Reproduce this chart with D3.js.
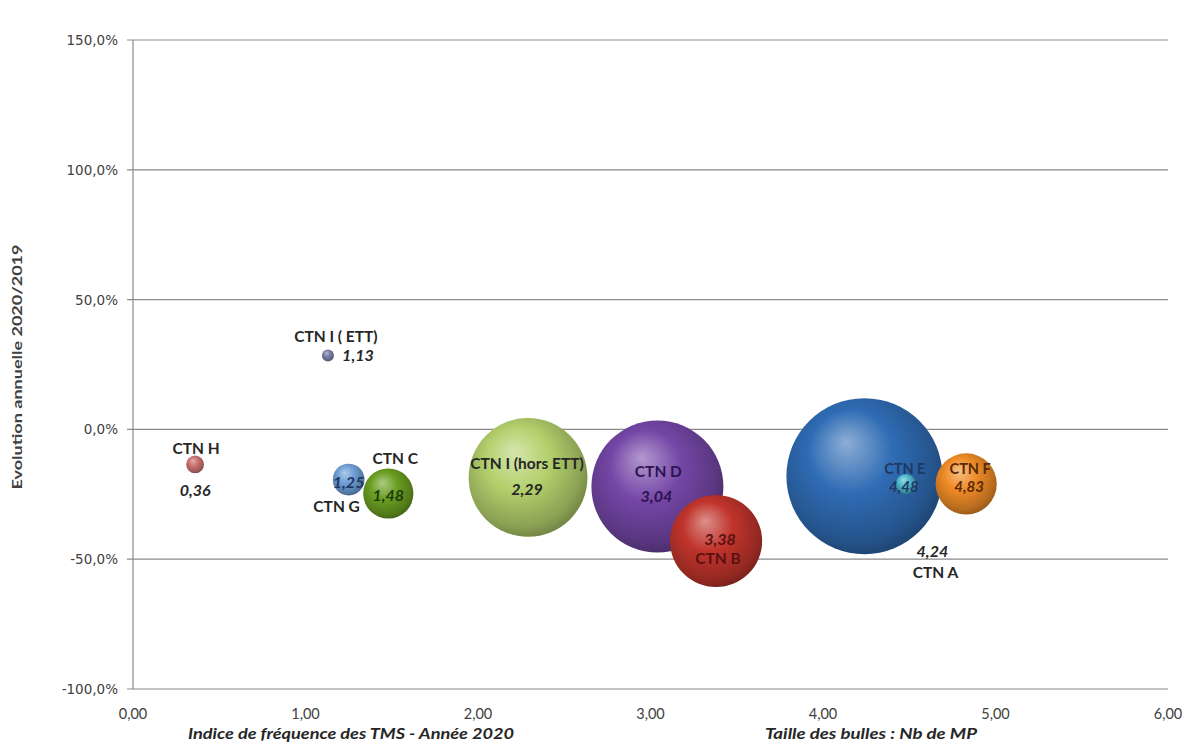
<!DOCTYPE html>
<html><head><meta charset="utf-8">
<script src="https://cdn.jsdelivr.net/npm/d3@7"></script>
<style>body{margin:0;background:#fff}svg{display:block}</style>
</head><body>
<svg id="c" width="1195" height="745"></svg>
<script>
const names = ["CTN H","CTN I ( ETT)","CTN G","CTN C","CTN I (hors ETT)","CTN D","CTN B","CTN A","CTN E","CTN F"];
const indice = [0.36,1.13,1.25,1.48,2.29,3.04,3.38,4.24,4.48,4.83];
const evolution = [-0.135,0.285,-0.193,-0.247,-0.185,-0.22,-0.43,-0.18,-0.21,-0.21];
const nbMP = [22,10,70,175,980,1210,590,1690,28,260];
const colors = ["#c8706f","#7a7ea6","#6e9fd6","#6a9e22","#b3d06c","#7446a6","#c0342c","#2f6cb4","#4fb8cc","#ee8a26"];
const labelColors = ["#262626","#262626","#1f3864","#1e3d0a","#262626","#2b1450","#5a1010","#262626","#1f3864","#5a2a05"];
const xTicks = [0,1,2,3,4,5,6];
const yTicks = [-1,-0.5,0,0.5,1,1.5];

const svg = d3.select("#c");
const m = {l:133, r:1168, t:40, b:689};
const x = d3.scaleLinear().domain([0,6]).range([m.l,m.r]);
const y = d3.scaleLinear().domain([-1,1.5]).range([m.b,m.t]);
const rs = d3.scaleSqrt().domain([0,1690]).range([0,78]);
const fmtY = v => d3.format(".1f")(v*100).replace(".",",").replace("\u2212","-")+"%";
const fmtX = v => d3.format(".2f")(v).replace(".",",");

// grid
svg.append("g").selectAll("line").data(yTicks).join("line")
  .attr("x1",m.l-6).attr("x2",m.r).attr("y1",d=>y(d)).attr("y2",d=>y(d))
  .attr("stroke","#8a8a8a").attr("stroke-width",1.2);
svg.append("line").attr("x1",m.l).attr("x2",m.l).attr("y1",m.t).attr("y2",m.b)
  .attr("stroke","#8a8a8a").attr("stroke-width",1.2);

// y axis labels
svg.append("g").selectAll("text").data(yTicks).join("text")
  .attr("x",118).attr("y",d=>y(d)+5).attr("text-anchor","end")
  .attr("font-family","DejaVu Sans").attr("font-size",13.5).attr("fill","#404040")
  .text(fmtY);
// x axis labels
svg.append("g").selectAll("text").data(xTicks).join("text")
  .attr("x",d=>x(d)).attr("y",719).attr("text-anchor","middle")
  .attr("font-family","Lato").attr("font-size",14.5).attr("fill","#404040")
  .text(fmtX);

// titles
svg.append("text").attr("transform","translate(22,367) rotate(-90)").attr("text-anchor","middle")
  .attr("font-family","Lato").attr("font-weight","bold").attr("font-size",14).attr("fill","#404040")
  .attr("textLength",245).attr("lengthAdjust","spacingAndGlyphs")
  .text("Evolution annuelle 2020/2019");
svg.append("text").attr("x",351).attr("y",739).attr("text-anchor","middle")
  .attr("font-family","Lato").attr("font-weight","bold").attr("font-style","italic").attr("font-size",16).attr("fill","#262626")
  .attr("textLength",326).attr("lengthAdjust","spacingAndGlyphs")
  .text("Indice de fréquence des TMS - Année 2020");
svg.append("text").attr("x",871).attr("y",739).attr("text-anchor","middle")
  .attr("font-family","Lato").attr("font-weight","bold").attr("font-style","italic").attr("font-size",16).attr("fill","#262626")
  .attr("textLength",212).attr("lengthAdjust","spacingAndGlyphs")
  .text("Taille des bulles : Nb de MP");

// gradients
const defs = svg.append("defs");
colors.forEach((c,i)=>{
  const g = defs.append("radialGradient").attr("id","g"+i)
    .attr("cx","45%").attr("cy","42%").attr("r","60%").attr("fx","38%").attr("fy","28%");
  const base = d3.color(c);
  g.append("stop").attr("offset","0%").attr("stop-color",d3.interpolateRgb(c,"#fff")(0.45));
  g.append("stop").attr("offset","45%").attr("stop-color",c);
  g.append("stop").attr("offset","85%").attr("stop-color",base.darker(0.7));
  g.append("stop").attr("offset","100%").attr("stop-color",base.darker(1.3));
});

const data = names.map((n,i)=>({i,n,x:indice[i],y:evolution[i],s:nbMP[i]}));
const order = data.slice().sort((a,b)=>b.s-a.s);
svg.append("g").selectAll("circle").data(order).join("circle")
  .attr("cx",d=>x(d.x)).attr("cy",d=>y(d.y)).attr("r",d=>rs(d.s))
  .attr("fill",d=>"url(#g"+d.i+")");

// label offsets: [nameDx,nameDy,valDx,valDy,fontSize]
const lab = [
  [1,-10, 0,32,15.5],
  [8,-13, 30,6,15.5],
  [-12,32, 0,8,15.5],
  [7,-30, 0,7,15.5],
  [-1,-8, -1,18,15.5],
  [1,-10, -1,15,15.5],
  [2,23, 4,4,15.5],
  [71,102, 68,81,15.5],
  [-1,-10, -2,8,14.5],
  [4,-10, 3,8,14.5]
];
const nameColor = i => (i===5||i===6||i===8||i===9) ? labelColors[i] : "#262626";
const lg = svg.append("g").attr("font-family","Lato").attr("font-weight","bold").attr("text-anchor","middle");
data.forEach(d=>{
  const L = lab[d.i], cx = x(d.x), cy = y(d.y);
  lg.append("text").attr("x",cx+L[0]).attr("y",cy+L[1])
    .attr("font-size",L[4]).attr("fill",nameColor(d.i)).text(d.n);
  lg.append("text").attr("x",cx+L[2]).attr("y",cy+L[3])
    .attr("font-size",L[4]+0.5).attr("font-style","italic").attr("fill",labelColors[d.i]).text(fmtX(d.x));
});
</script>
</body></html>
